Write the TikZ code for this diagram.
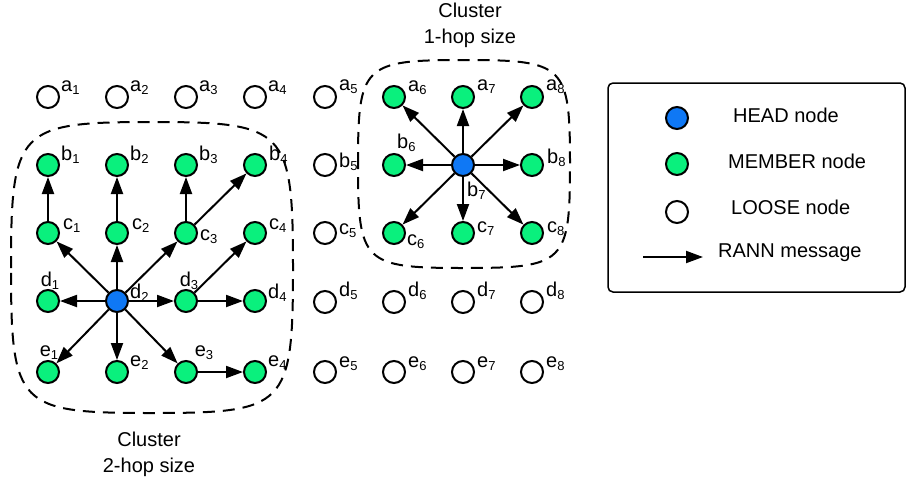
\documentclass[tikz,border=0pt]{standalone}
\usepackage{fontspec}
\setmainfont{Liberation Sans}
\usetikzlibrary{arrows.meta,calc}
\definecolor{memgreen}{RGB}{10,240,125}
\definecolor{headblue}{RGB}{15,120,245}
\newcommand\lab[2]{#1\raisebox{-3pt}{\fontsize{13}{13}\selectfont #2}}
\begin{document}
\begin{tikzpicture}[x=1pt,y=-1pt,
 nd/.style={circle,draw,line width=2pt,minimum size=22pt,inner sep=0pt},
 loose/.style={nd,fill=white},
 member/.style={nd,fill=memgreen},
 head/.style={nd,fill=headblue},
 lbl/.style={inner sep=0pt,anchor=base west,font=\fontsize{20}{24}\selectfont},
 lblc/.style={lbl,anchor=base},
 msg/.style={line width=2pt,-{Triangle[length=17pt,width=12pt]}},
 cluster/.style={line width=2pt,dash pattern=on 12pt off 8pt},
 txt/.style={font=\fontsize{20}{26}\selectfont,inner sep=0pt,align=center}
]
\useasboundingbox (0,0) rectangle (910,483);

% row a
\node[loose]  (a1) at (48,97) {};
\node[loose]  (a2) at (117,97) {};
\node[loose]  (a3) at (186,97) {};
\node[loose]  (a4) at (255,97) {};
\node[loose]  (a5) at (325,97) {};
\node[member] (a6) at (394,97) {};
\node[member] (a7) at (463,97) {};
\node[member] (a8) at (532,97) {};
% row b
\node[member] (b1) at (48,165) {};
\node[member] (b2) at (117,165) {};
\node[member] (b3) at (186,165) {};
\node[member] (b4) at (255,165) {};
\node[loose]  (b5) at (325,165) {};
\node[member] (b6) at (394,165) {};
\node[head]   (b7) at (463,165) {};
\node[member] (b8) at (532,165) {};
% row c
\node[member] (c1) at (48,233) {};
\node[member] (c2) at (117,233) {};
\node[member] (c3) at (186,233) {};
\node[member] (c4) at (255,233) {};
\node[loose]  (c5) at (325,233) {};
\node[member] (c6) at (394,233) {};
\node[member] (c7) at (463,233) {};
\node[member] (c8) at (532,233) {};
% row d
\node[member] (d1) at (48,301) {};
\node[head]   (d2) at (117,301) {};
\node[member] (d3) at (186,301) {};
\node[member] (d4) at (255,301) {};
\node[loose]  (d5) at (325,302) {};
\node[loose]  (d6) at (394,302) {};
\node[loose]  (d7) at (463,302) {};
\node[loose]  (d8) at (532,302) {};
% row e
\node[member] (e1) at (48,372) {};
\node[member] (e2) at (117,372) {};
\node[member] (e3) at (186,372) {};
\node[member] (e4) at (255,372) {};
\node[loose]  (e5) at (325,372) {};
\node[loose]  (e6) at (394,372) {};
\node[loose]  (e7) at (463,372) {};
\node[loose]  (e8) at (532,372) {};

% labels
\node[lbl] (a1l) at ($(a1)+(13,-6)$) {\lab{a}{1}};
\node[lbl] (a2l) at ($(a2)+(13,-6)$) {\lab{a}{2}};
\node[lbl] (a3l) at ($(a3)+(13,-6)$) {\lab{a}{3}};
\node[lbl] (a4l) at ($(a4)+(13,-6)$) {\lab{a}{4}};
\node[lbl] (a5l) at ($(a5)+(14,-7)$) {\lab{a}{5}};
\node[lbl] (a6l) at ($(a6)+(14,-6)$) {\lab{a}{6}};
\node[lbl] (a7l) at ($(a7)+(14,-7)$) {\lab{a}{7}};
\node[lbl] (a8l) at ($(a8)+(14,-7)$) {\lab{a}{8}};

\node[lbl] (b1l) at ($(b1)+(13,-5)$) {\lab{b}{1}};
\node[lbl] (b2l) at ($(b2)+(13,-5)$) {\lab{b}{2}};
\node[lbl] (b3l) at ($(b3)+(13,-5)$) {\lab{b}{3}};
\node[lbl] (b4l) at ($(b4)+(14,-5)$) {\lab{b}{4}};
\node[lbl] (b5l) at ($(b5)+(14,2)$) {\lab{b}{5}};
\node[lbl] (b6l) at ($(b6)+(3,-17)$) {\lab{b}{6}};
\node[lbl] (b7l) at ($(b7)+(4,31)$) {\lab{b}{7}};
\node[lbl] (b8l) at ($(b8)+(15,-2)$) {\lab{b}{8}};

\node[lbl] (c1l) at ($(c1)+(15,-4)$) {\lab{c}{1}};
\node[lbl] (c2l) at ($(c2)+(15,-4)$) {\lab{c}{2}};
\node[lbl] (c3l) at ($(c3)+(14,7)$) {\lab{c}{3}};
\node[lbl] (c4l) at ($(c4)+(14,-4)$) {\lab{c}{4}};
\node[lbl] (c5l) at ($(c5)+(14,1)$) {\lab{c}{5}};
\node[lbl] (c6l) at ($(c6)+(13,12)$) {\lab{c}{6}};
\node[lbl] (c7l) at ($(c7)+(14,-1)$) {\lab{c}{7}};
\node[lbl] (c8l) at ($(c8)+(15,-1)$) {\lab{c}{8}};

\node[lblc] (d1l) at ($(d1)+(2,-15)$) {\lab{d}{1}};
\node[lbl] (d2l) at ($(d2)+(13,-3)$) {\lab{d}{2}};
\node[lblc] (d3l) at ($(d3)+(3,-15)$) {\lab{d}{3}};
\node[lbl] (d4l) at ($(d4)+(13,-3)$) {\lab{d}{4}};
\node[lbl] (d5l) at ($(d5)+(14,-6)$) {\lab{d}{5}};
\node[lbl] (d6l) at ($(d6)+(14,-6)$) {\lab{d}{6}};
\node[lbl] (d7l) at ($(d7)+(14,-6)$) {\lab{d}{7}};
\node[lbl] (d8l) at ($(d8)+(14,-6)$) {\lab{d}{8}};

\node[lblc] (e1l) at ($(e1)+(1,-16)$) {\lab{e}{1}};
\node[lbl] (e2l) at ($(e2)+(13,-6)$) {\lab{e}{2}};
\node[lblc] (e3l) at ($(e3)+(18,-16)$) {\lab{e}{3}};
\node[lbl] (e4l) at ($(e4)+(13,-6)$) {\lab{e}{4}};
\node[lbl] (e5l) at ($(e5)+(14,-5)$) {\lab{e}{5}};
\node[lbl] (e6l) at ($(e6)+(14,-5)$) {\lab{e}{6}};
\node[lbl] (e7l) at ($(e7)+(14,-5)$) {\lab{e}{7}};
\node[lbl] (e8l) at ($(e8)+(14,-5)$) {\lab{e}{8}};

% messages, 2-hop cluster
\draw[msg] (d2) -- (c1);
\draw[msg] (d2) -- (c2);
\draw[msg] (d2) -- (c3);
\draw[msg] (d2) -- (d1);
\draw[msg] (d2) -- (d3);
\draw[msg] (d2) -- (e1);
\draw[msg] (d2) -- (e2);
\draw[msg] (d2) -- (e3);
\draw[msg] (c1) -- (b1);
\draw[msg] (c2) -- (b2);
\draw[msg] (c3) -- (b3);
\draw[msg] (c3) -- (b4);
\draw[msg] (d3) -- (c4);
\draw[msg] (d3) -- (d4);
\draw[msg] (e3) -- (e4);
% messages, 1-hop cluster
\draw[msg] (b7) -- (a6);
\draw[msg] (b7) -- (a7);
\draw[msg] (b7) -- (a8);
\draw[msg] (b7) -- (b6);
\draw[msg] (b7) -- (b8);
\draw[msg] (b7) -- (c6);
\draw[msg] (b7) -- (c7);
\draw[msg] (b7) -- (c8);

% cluster outlines
\draw[cluster] (11,268) .. controls (11,129) and (18,122) .. (152,122)
  .. controls (286,122) and (293,129) .. (293,268)
  .. controls (293,407) and (286,413) .. (152,413)
  .. controls (18,413) and (11,407) .. (11,268) -- cycle;
\draw[cluster] (358,164) .. controls (358,65) and (363,60) .. (464,60)
  .. controls (565,60) and (570,65) .. (570,164)
  .. controls (570,263) and (565,268) .. (464,268)
  .. controls (363,268) and (358,263) .. (358,164) -- cycle;

\node[txt] (cl1) at (470,25) {Cluster\\1-hop size};
\node[txt] (cl2) at (149,454) {Cluster\\2-hop size};

% legend
\node[draw,line width=1.5pt,rounded corners=5pt,minimum width=297pt,minimum height=209pt,inner sep=0pt] (legend) at (756.5,187.5) {};
\node[head]   (lh) at (677,118) {};
\node[member] (lm) at (677,164) {};
\node[loose]  (ll) at (677,212) {};
\coordinate (la1) at (643,257);
\coordinate (la2) at (703,257);
\draw[msg] (la1) -- (la2);
\node[txt,anchor=west] (lht) at (733,115) {HEAD node};
\node[txt,anchor=west] (lmt) at (728,161) {MEMBER node};
\node[txt,anchor=west] (llt) at (731,207) {LOOSE node};
\node[txt,anchor=west] (lat) at (718,253) {RANN message};
\end{tikzpicture}
\end{document}
